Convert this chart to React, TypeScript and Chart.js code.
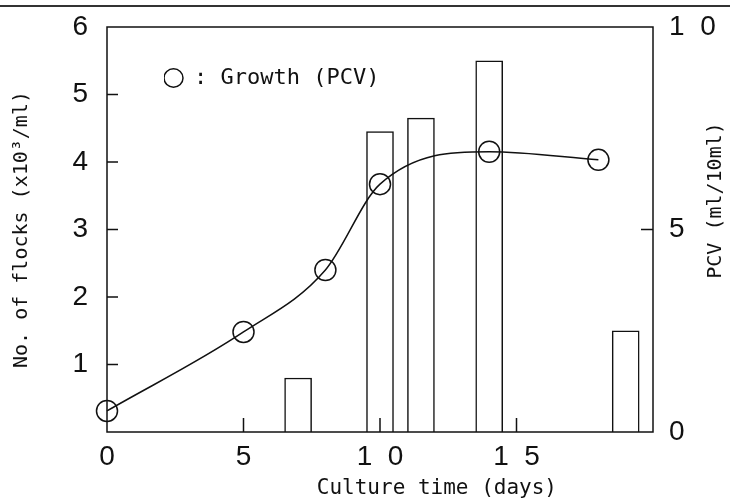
import { useEffect, useRef } from 'react';
import { Chart, registerables } from 'chart.js';

Chart.register(...registerables);

// ---- data ----
const growthDays = [0, 5, 8, 10, 14, 18];
const growthPCV = [0.52, 2.47, 4.0, 6.12, 6.92, 6.72];

const flockDays = [7, 10, 11.5, 14, 19];
const flockCounts = [0.8, 4.45, 4.65, 5.5, 1.5];

const xTickValues = [0, 5, 10, 15];
const xTickLabels = ['0', '5', '1  0', '1  5'];
const leftTickValues = [1, 2, 3, 4, 5, 6];
const leftTickLabels = ['1', '2', '3', '4', '5', '6'];
const rightTickValues = [0, 5, 10];
const rightTickLabels = ['0', '5', '1  0'];

const xTitle = 'Culture time (days)';
const leftTitle = 'No. of flocks (x10\u00B3/ml)';
const rightTitle = 'PCV (ml/10ml)';
const legendText = ': Growth (PCV)';

const INK = '#111111';
const DIGIT_FONT = "'Liberation Sans', Arial, sans-serif";
const TEXT_FONT = "'DejaVu Sans Mono', 'Liberation Mono', monospace";

const labelFor = (values: number[], labels: string[], v: number) => {
  const i = values.indexOf(v);
  return i >= 0 ? labels[i] : '';
};

const noLabelPadding = (s: any) => {
  s.paddingTop = 0;
  s.paddingBottom = 0;
};

const framePlugin = {
  id: 'frameTicks',
  afterLayout(chart: any) {
    const lg = chart.legend;
    if (!lg) return;
    const a = chart.chartArea;
    const w = lg.width;
    const h = lg.height;
    lg.left = a.left + 57;
    lg.top = a.top + 40;
    lg.right = lg.left + w;
    lg.bottom = lg.top + h;
  },
  afterDatasetsDraw(chart: any) {
    const { ctx, chartArea: a, scales } = chart;
    ctx.save();
    ctx.strokeStyle = INK;
    ctx.lineWidth = 1.5;
    ctx.strokeRect(a.left, a.top, a.right - a.left, a.bottom - a.top);
    ctx.beginPath();
    const y = scales.y;
    y.ticks.forEach((t: any) => {
      if (t.value > y.min && t.value < y.max) {
        const p = y.getPixelForValue(t.value);
        ctx.moveTo(a.left, p);
        ctx.lineTo(a.left + 11, p);
      }
    });
    const y1 = scales.y1;
    y1.ticks.forEach((t: any) => {
      if (t.value > y1.min && t.value < y1.max) {
        const p = y1.getPixelForValue(t.value);
        ctx.moveTo(a.right, p);
        ctx.lineTo(a.right - 12, p);
      }
    });
    const x = scales.x;
    x.ticks.forEach((t: any) => {
      if (t.value > x.min && t.value < x.max) {
        const p = x.getPixelForValue(t.value);
        ctx.moveTo(p, a.bottom);
        ctx.lineTo(p, a.bottom - 14);
      }
    });
    ctx.stroke();
    ctx.restore();
  },
  afterDraw(chart: any) {
    const { ctx, chartArea: a } = chart;
    ctx.save();
    ctx.fillStyle = INK;
    ctx.font = `20px ${TEXT_FONT}`;
    ctx.textAlign = 'center';
    ctx.textBaseline = 'middle';
    ctx.translate(a.right + 63, (a.top + a.bottom) / 2 - 29);
    ctx.rotate(-Math.PI / 2);
    ctx.fillText(rightTitle, 0, 0);
    ctx.restore();
  },
};

export default function App() {
  const canvasRef = useRef<HTMLCanvasElement | null>(null);

  useEffect(() => {
    const canvas = canvasRef.current;
    if (!canvas) return;
    const chart = new Chart(canvas, {
      type: 'bar',
      data: {
        datasets: [
          {
            type: 'line',
            label: legendText,
            data: growthDays.map((d, i) => ({ x: d, y: growthPCV[i] })),
            yAxisID: 'y1',
            xAxisID: 'x',
            borderColor: INK,
            borderWidth: 1.5,
            backgroundColor: 'rgba(0,0,0,0)',
            pointStyle: 'circle',
            pointRadius: 10.5,
            pointBorderWidth: 1.5,
            pointBorderColor: INK,
            pointBackgroundColor: 'rgba(0,0,0,0)',
            cubicInterpolationMode: 'monotone',
            fill: false,
            clip: false,
            order: 0,
          } as any,
          {
            type: 'bar',
            label: 'No. of flocks',
            data: flockDays.map((d, i) => ({ x: d, y: flockCounts[i] })),
            yAxisID: 'y',
            xAxisID: 'x',
            backgroundColor: '#ffffff',
            borderColor: INK,
            borderWidth: 1.5,
            barThickness: 27,
            order: 1,
          } as any,
        ],
      },
      options: {
        responsive: false,
        animation: false,
        devicePixelRatio: 1,
        layout: { padding: { top: 27, left: 0, right: 0, bottom: 0 } },
        plugins: {
          legend: {
            position: 'chartArea' as any,
            align: 'start',
            labels: {
              filter: (item: any) => item.datasetIndex === 0,
              usePointStyle: true,
              pointStyleWidth: 19,
              boxHeight: 13,
              padding: 0,
              color: INK,
              font: { family: TEXT_FONT, size: 22 },
            },
          },
          tooltip: { enabled: false },
        },
        scales: {
          x: {
            type: 'linear',
            min: 0,
            max: 20,
            offset: false,
            grid: { display: false, drawTicks: false, offset: false },
            border: { display: false },
            afterFit: (s: any) => {
              s.height = 69;
            },
            afterBuildTicks: (s: any) => {
              s.ticks = [0, 5, 10, 15, 20].map((v) => ({ value: v }));
            },
            ticks: {
              autoSkip: false,
              maxRotation: 0,
              padding: 8,
              color: INK,
              font: { family: DIGIT_FONT, size: 28 },
              callback: (v: any) => labelFor(xTickValues, xTickLabels, Number(v)),
            },
            title: {
              display: true,
              text: '         ' + xTitle,
              color: INK,
              font: { family: TEXT_FONT, size: 21 },
              padding: { top: 0, bottom: 0 },
            },
          },
          y: {
            type: 'linear',
            position: 'left',
            min: 0,
            max: 6,
            grid: { display: false, drawTicks: false },
            border: { display: false },
            afterFit: (s: any) => {
              s.width = 107;
              noLabelPadding(s);
            },
            ticks: {
              stepSize: 1,
              padding: 19,
              color: INK,
              font: { family: DIGIT_FONT, size: 28 },
              callback: (v: any) => labelFor(leftTickValues, leftTickLabels, Number(v)),
            },
            title: {
              display: true,
              text: leftTitle,
              color: INK,
              font: { family: TEXT_FONT, size: 20 },
              padding: { top: 10, bottom: 0 },
            },
          },
          y1: {
            type: 'linear',
            position: 'right',
            min: 0,
            max: 10,
            grid: { display: false, drawTicks: false },
            border: { display: false },
            afterFit: (s: any) => {
              s.width = 77;
              noLabelPadding(s);
            },
            ticks: {
              stepSize: 5,
              padding: 16,
              color: INK,
              font: { family: DIGIT_FONT, size: 28 },
              callback: (v: any) => labelFor(rightTickValues, rightTickLabels, Number(v)),
            },
          },
        },
      } as any,
      plugins: [framePlugin],
    });
    return () => chart.destroy();
  }, []);

  return (
    <div
      style={{
        position: 'fixed',
        left: 0,
        top: 0,
        width: 730,
        height: 501,
        background: '#ffffff',
        overflow: 'hidden',
      }}
    >
      <div
        style={{
          position: 'absolute',
          left: 0,
          top: 5,
          width: 730,
          height: 2,
          background: '#333333',
        }}
      />
      <canvas
        ref={canvasRef}
        width={730}
        height={501}
        style={{ position: 'absolute', left: 0, top: 0, width: 730, height: 501 }}
      />
    </div>
  );
}
